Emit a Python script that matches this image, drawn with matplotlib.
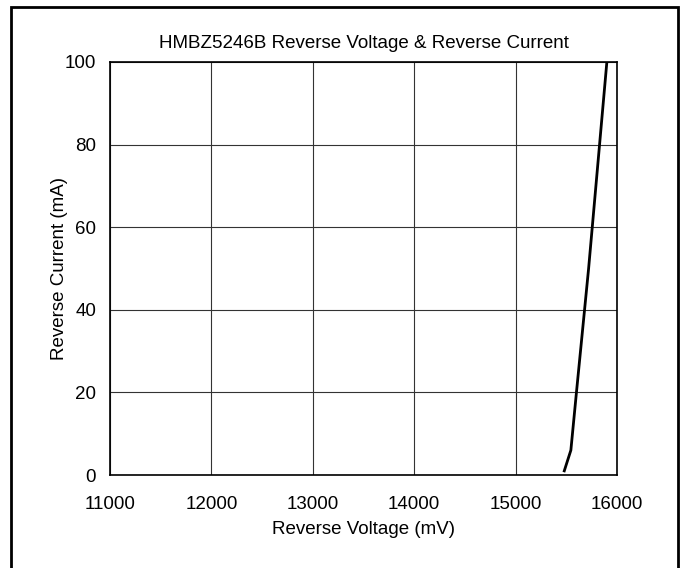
import matplotlib
matplotlib.use("Agg")
import matplotlib.pyplot as plt
from matplotlib.patches import Rectangle

plt.rcParams['font.family'] = ['Liberation Sans', 'DejaVu Sans']

# Data
voltage_mv = [15480, 15545, 15600, 15720, 15900]
current_ma = [1, 6, 20, 50, 100]
x_ticks = [11000, 12000, 13000, 14000, 15000, 16000]
y_ticks = [0, 20, 40, 60, 80, 100]

title = "HMBZ5246B Reverse Voltage & Reverse Current"
xlabel = "Reverse Voltage (mV)"
ylabel = "Reverse Current (mA)"

FS = 13.5
W, H = 684, 568
fig = plt.figure(figsize=(W / 100, H / 100), dpi=100)
ax = fig.add_axes([110 / W, (H - 475) / H, (617 - 110) / W, (475 - 62) / H])

ax.plot(voltage_mv, current_ma, color='black', lw=2, zorder=3)

ax.set_xlim(11000, 16000)
ax.set_ylim(0, 100)
ax.set_xticks(x_ticks)
ax.set_yticks(y_ticks)
ax.grid(True, color='#333333', lw=0.8)
ax.tick_params(axis='both', length=0, labelsize=FS)
ax.tick_params(axis='x', pad=15)
ax.tick_params(axis='y', pad=10)
for s in ax.spines.values():
    s.set_color('black')
    s.set_linewidth(1.2)

ax.set_title(title, fontsize=FS, pad=10)
ax.set_xlabel(xlabel, fontsize=FS, labelpad=6)
ax.set_ylabel(ylabel, fontsize=FS, va='center')
ax.yaxis.set_label_coords(-0.1, 0.5)

# outer frame
fig.patches.append(Rectangle((11 / W, -0.05), (678 - 11) / W, 1.05 - 7 / H,
                             transform=fig.transFigure, fill=False,
                             edgecolor='black', lw=2))

fig.savefig("out.png", dpi=100)
